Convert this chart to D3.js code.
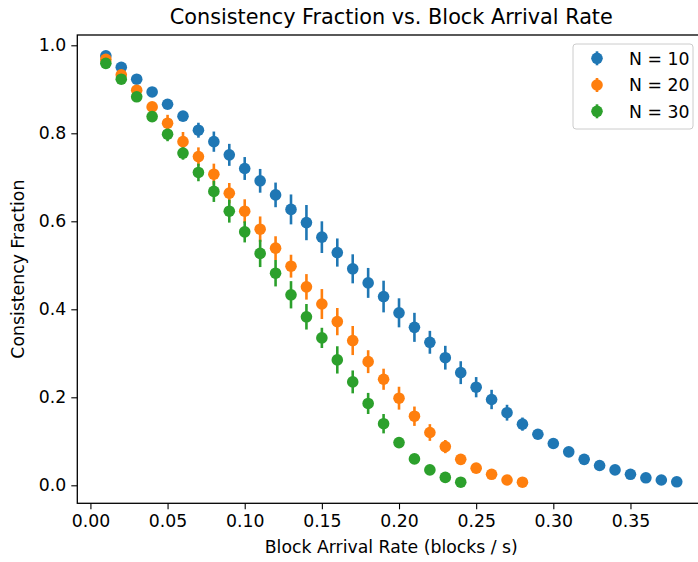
<!DOCTYPE html>
<html><head><meta charset="utf-8">
<script src="https://cdn.jsdelivr.net/npm/d3@7"></script>
<style>
html,body{margin:0;padding:0;background:#fff;}
svg{display:block;font-family:"DejaVu Sans",sans-serif;}
</style></head>
<body><svg id="c" width="698" height="562"></svg>
<script>
const rates = [0.01,0.02,0.03,0.04,0.05,0.06,0.07,0.08,0.09,0.10,0.11,0.12,0.13,0.14,0.15,0.16,0.17,0.18,0.19,0.20,0.21,0.22,0.23,0.24,0.25,0.26,0.27,0.28,0.29,0.30,0.31,0.32,0.33,0.34,0.35,0.36,0.37,0.38];
const n10 = [0.976,0.950,0.923,0.894,0.866,0.839,0.807,0.781,0.751,0.720,0.692,0.660,0.627,0.597,0.564,0.529,0.492,0.460,0.429,0.392,0.359,0.325,0.290,0.256,0.223,0.195,0.165,0.139,0.116,0.095,0.076,0.059,0.045,0.035,0.025,0.017,0.012,0.008];
const n10err = [0.003,0.004,0.005,0.006,0.008,0.011,0.017,0.023,0.025,0.026,0.027,0.028,0.034,0.040,0.036,0.032,0.033,0.034,0.036,0.033,0.033,0.026,0.027,0.026,0.023,0.022,0.018,0.015,0.011,0.009,0.008,0.006,0.005,0.004,0.004,0.003,0.003,0.002];
const n20 = [0.968,0.933,0.898,0.860,0.823,0.781,0.747,0.707,0.664,0.623,0.582,0.539,0.498,0.451,0.412,0.372,0.329,0.281,0.241,0.198,0.157,0.120,0.088,0.059,0.039,0.025,0.012,0.007];
const n20err = [0.003,0.005,0.008,0.010,0.019,0.022,0.021,0.024,0.023,0.027,0.029,0.027,0.026,0.029,0.034,0.031,0.033,0.026,0.024,0.026,0.022,0.019,0.015,0.011,0.008,0.006,0.004,0.003];
const n30 = [0.959,0.923,0.883,0.838,0.798,0.755,0.711,0.668,0.623,0.576,0.527,0.482,0.433,0.383,0.335,0.285,0.235,0.186,0.140,0.097,0.060,0.035,0.018,0.007];
const n30err = [0.003,0.005,0.008,0.010,0.016,0.015,0.020,0.024,0.026,0.024,0.031,0.030,0.031,0.029,0.023,0.031,0.026,0.024,0.022,0.012,0.009,0.006,0.004,0.003];
const seriesNames = ["N = 10","N = 20","N = 30"];
const colors = ["#1f77b4","#ff7f0e","#2ca02c"];
const xTicks = [0.00,0.05,0.10,0.15,0.20,0.25,0.30,0.35];
const yTicks = [0.0,0.2,0.4,0.6,0.8,1.0];

const series = [n10,n20,n30].map((vals,i)=>({
  name: seriesNames[i], color: colors[i],
  pts: vals.map((v,j)=>({x: rates[j], y: v, e: [n10err,n20err,n30err][i][j]}))
}));

const svg = d3.select("#c");
const L=77.3, R=705.3, T=35, B=503.3;
const x = d3.scaleLinear().domain([-0.0085,0.3985]).range([L,R]);
const y = d3.scaleLinear().domain([-0.0409,1.0234]).range([B,T]);
const fs = 17.3;

// error bars (below all markers)
const bars = svg.append("g");
series.forEach(s=>{
  bars.selectAll(null).data(s.pts).enter().append("line")
    .attr("x1",d=>x(d.x)).attr("x2",d=>x(d.x))
    .attr("y1",d=>y(d.y-d.e)).attr("y2",d=>y(d.y+d.e))
    .attr("stroke",s.color).attr("stroke-width",2.6);
});
const marks = svg.append("g");
series.forEach(s=>{
  marks.selectAll(null).data(s.pts).enter().append("circle")
    .attr("cx",d=>x(d.x)).attr("cy",d=>y(d.y)).attr("r",5.8)
    .attr("fill",s.color);
});

// axes
const xAxis = svg.append("g").attr("transform",`translate(0,${B})`)
  .call(d3.axisBottom(x).tickValues(xTicks).tickFormat(d3.format(".2f")).tickSize(6).tickPadding(5));
const yAxis = svg.append("g").attr("transform",`translate(${L},0)`)
  .call(d3.axisLeft(y).tickValues(yTicks).tickFormat(d3.format(".1f")).tickSize(6).tickPadding(5));
[xAxis,yAxis].forEach(a=>{
  a.select(".domain").remove();
  a.selectAll(".tick line").attr("stroke","#000").attr("stroke-width",1.1);
  a.selectAll(".tick text").attr("fill","#000").style("font-size",fs+"px").style("font-family","DejaVu Sans");
});
// spines
svg.append("rect").attr("x",L).attr("y",T).attr("width",R-L).attr("height",B-T)
  .attr("fill","none").attr("stroke","#000").attr("stroke-width",1.3);

// labels
svg.append("text").attr("x",(L+R)/2).attr("y",24).attr("text-anchor","middle")
  .style("font-size","20.8px").text("Consistency Fraction vs. Block Arrival Rate");
svg.append("text").attr("x",(L+R)/2).attr("y",553).attr("text-anchor","middle")
  .style("font-size",fs+"px").text("Block Arrival Rate (blocks / s)");
svg.append("text").attr("transform",`translate(24,${(T+B)/2}) rotate(-90)`).attr("text-anchor","middle")
  .style("font-size",fs+"px").text("Consistency Fraction");

// legend
const lg = svg.append("g");
lg.append("rect").attr("x",573).attr("y",44).attr("width",120).attr("height",85).attr("rx",3)
  .attr("fill","#fff").attr("fill-opacity",0.8).attr("stroke","#ccc").attr("stroke-width",1);
const ly = [58.3,85,111.3];
series.forEach((s,i)=>{
  lg.append("line").attr("x1",597).attr("x2",597).attr("y1",ly[i]-7).attr("y2",ly[i]+7)
    .attr("stroke",s.color).attr("stroke-width",2.6);
  lg.append("circle").attr("cx",597).attr("cy",ly[i]).attr("r",5.8).attr("fill",s.color);
  lg.append("text").attr("x",629).attr("y",ly[i]).attr("dy","0.36em")
    .style("font-size",fs+"px").text(s.name);
});
</script></body></html>
